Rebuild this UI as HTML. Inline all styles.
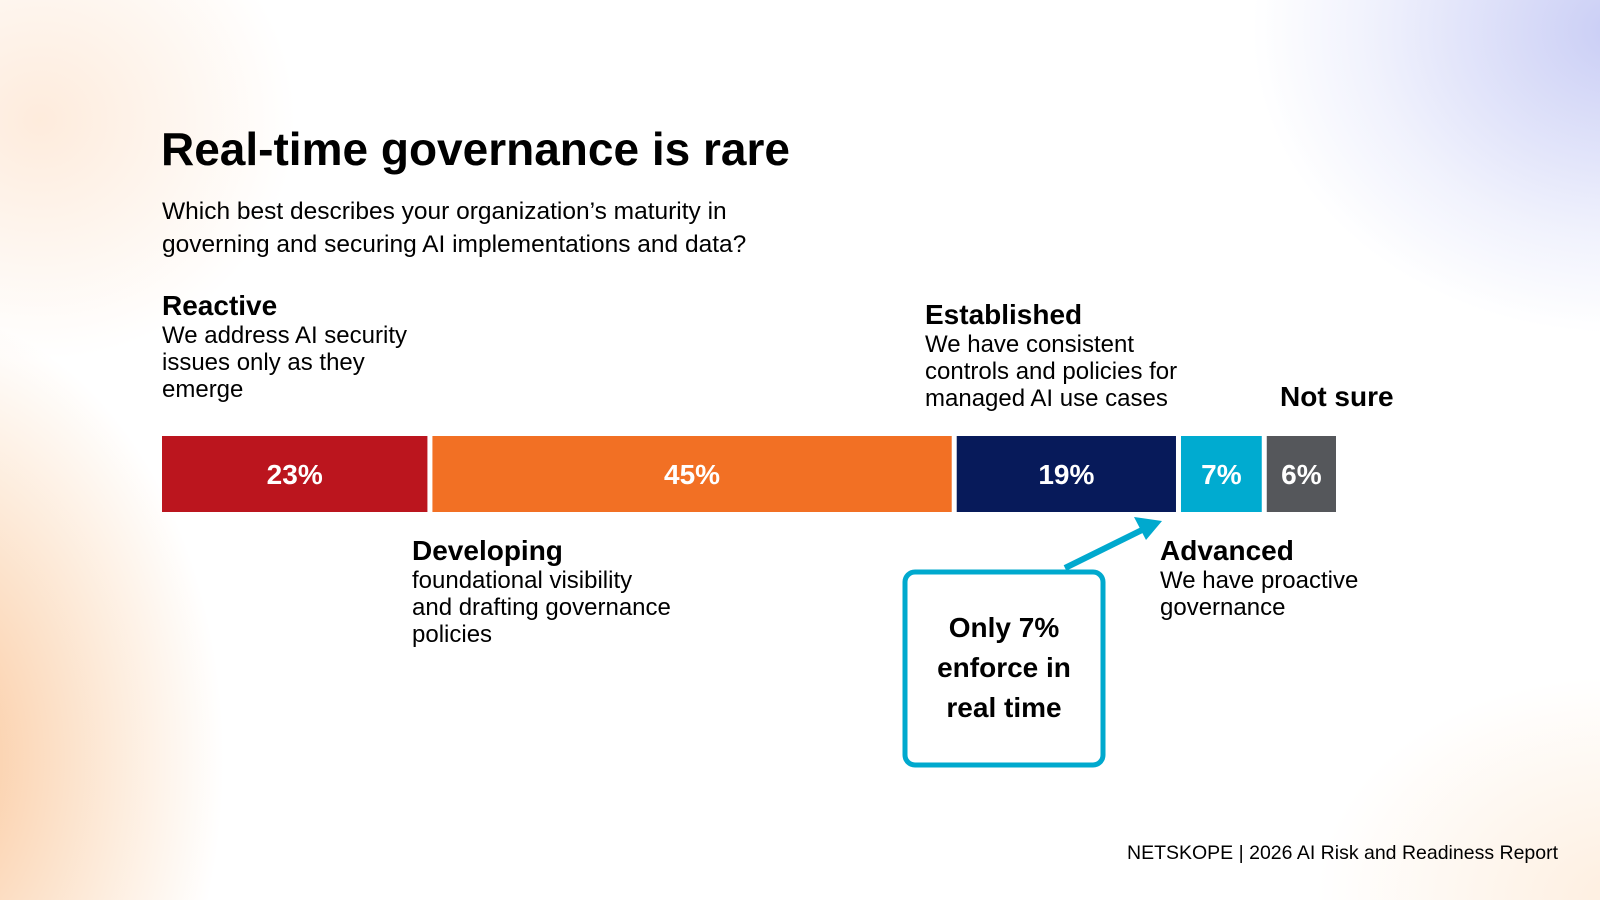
<!DOCTYPE html>
<html><head><meta charset="utf-8">
<style>
html,body{margin:0;padding:0}
body{width:1600px;height:900px;position:relative;overflow:hidden;font-family:"Liberation Sans",sans-serif;color:#000;
background:
radial-gradient(ellipse 380px 560px at -80px 760px, rgba(245,140,50,0.5), rgba(245,160,80,0.18) 55%, rgba(255,255,255,0) 80%),
radial-gradient(ellipse 320px 300px at 40px 120px, rgba(250,190,140,0.3), rgba(255,255,255,0) 80%),
radial-gradient(ellipse 460px 380px at 1620px 30px, rgba(120,130,230,0.4), rgba(160,170,240,0.15) 55%, rgba(255,255,255,0) 80%),
radial-gradient(ellipse 380px 280px at 1620px 900px, rgba(250,200,150,0.3), rgba(255,255,255,0) 80%),
#fff;}
.t{position:absolute;white-space:nowrap}
.h{font-weight:bold;font-size:28px}
.d{font-size:24px;line-height:27px}
</style></head><body>
<div class="t" style="left:161px;top:122px;font-size:46px;font-weight:bold">Real-time governance is rare</div>
<div class="t" style="left:162px;top:195px;font-size:24.5px;line-height:33px">Which best describes your organization’s maturity in<br>governing and securing AI implementations and data?</div>

<div class="t" style="left:162px;top:290px"><div class="h">Reactive</div><div class="d">We address AI security<br>issues only as they<br>emerge</div></div>
<div class="t" style="left:925px;top:299px"><div class="h">Established</div><div class="d">We have consistent<br>controls and policies for<br>managed AI use cases</div></div>
<div class="t h" style="left:1280px;top:381px">Not sure</div>
<div class="t" style="left:412px;top:535px"><div class="h">Developing</div><div class="d">foundational visibility<br>and drafting governance<br>policies</div></div>
<div class="t" style="left:1160px;top:535px"><div class="h">Advanced</div><div class="d">We have proactive<br>governance</div></div>

<svg id="chart" width="1600" height="900" style="position:absolute;left:0;top:0">
<line x1="1065" y1="568" x2="1148" y2="527" stroke="#00a9ce" stroke-width="6"/>
<polygon points="1162,521 1134,517 1146,540" fill="#00a9ce"/>
<rect x="905" y="572" width="198" height="193" rx="10" fill="#fff" stroke="#00a9ce" stroke-width="5"/>
<text font-family="Liberation Sans, sans-serif" font-weight="bold" font-size="28" text-anchor="middle" fill="#000"><tspan x="1004" y="637">Only 7%</tspan><tspan x="1004" y="677">enforce in</tspan><tspan x="1004" y="717">real time</tspan></text>
</svg>

<div class="t" style="left:1127px;top:842px;font-size:19.5px">NETSKOPE | 2026 AI Risk and Readiness Report</div>

<script>
const categories = ["Reactive","Developing","Established","Advanced","Not sure"];
const values = [23,45,19,7,6];
const labels = ["23%","45%","19%","7%","6%"];
const colors = ["#bb151e","#f27024","#071a5a","#00abd0","#55575b"];
const svg = document.getElementById('chart');
const NS = "http://www.w3.org/2000/svg";
const x0 = 162, gap = 5, totalW = 1174, y0 = 436, barH = 76;
const total = values.reduce((a,b)=>a+b,0);
const scale = (totalW - gap*(values.length-1)) / total;
function xw(v){ return v*scale; }
let x = x0;
values.forEach((v,i)=>{
  const w = xw(v);
  const r = document.createElementNS(NS,'rect');
  r.setAttribute('x',x); r.setAttribute('y',y0); r.setAttribute('width',w); r.setAttribute('height',barH);
  r.setAttribute('fill',colors[i]);
  
  
  svg.insertBefore(r, svg.firstChild);
  const t = document.createElementNS(NS,'text');
  t.setAttribute('x', x + w/2); t.setAttribute('y', y0 + barH/2 + 10);
  t.setAttribute('text-anchor','middle'); t.setAttribute('fill','#fff');
  t.setAttribute('font-family','Liberation Sans, sans-serif'); t.setAttribute('font-weight','bold'); t.setAttribute('font-size','28');
  t.textContent = labels[i];
  
  
  svg.appendChild(t);
  x += w + gap;
});
</script>
</body></html>
